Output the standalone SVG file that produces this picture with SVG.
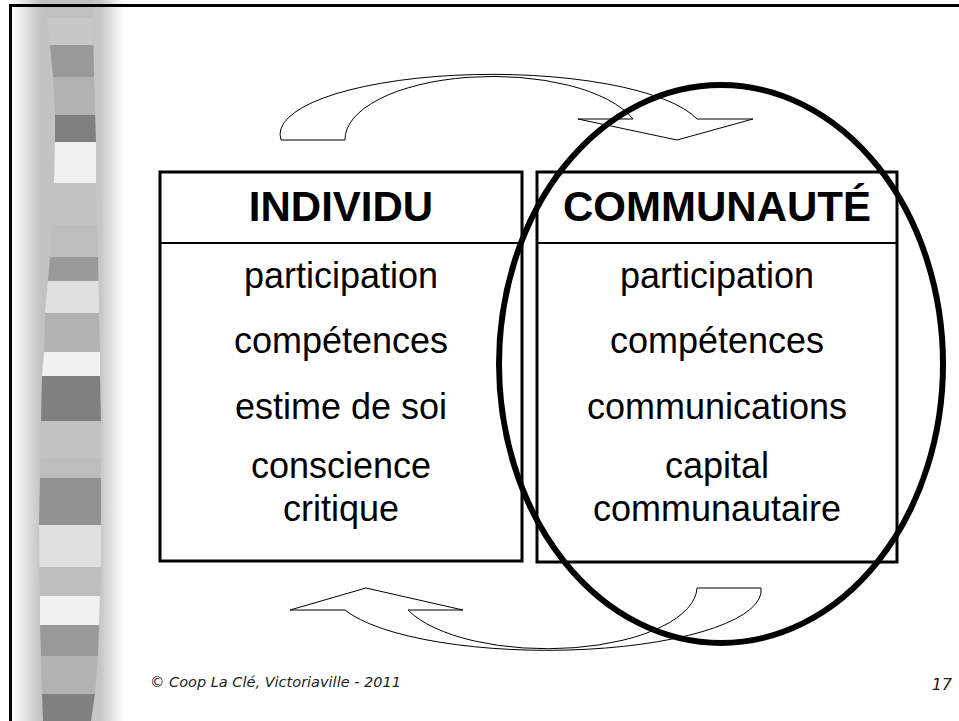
<svg xmlns="http://www.w3.org/2000/svg" width="959" height="721" viewBox="0 0 959 721">
<style>
.box{fill:#fff;stroke:#000;stroke-width:3}
.sep{stroke:#000;stroke-width:2}
.hdr{font-family:"Liberation Sans",Arial,sans-serif;font-weight:bold;font-size:42px;fill:#000;text-anchor:middle}
.txt{font-family:"Liberation Sans",Arial,sans-serif;font-size:36px;fill:#000;text-anchor:middle}
.arrow{fill:#fff;stroke:#000;stroke-width:1}
.foot{font-family:"DejaVu Sans",Verdana,sans-serif;font-style:italic;fill:#222}
</style>
<defs>
<linearGradient id="bandGrad" x1="11" y1="0" x2="124" y2="0" gradientUnits="userSpaceOnUse">
<stop offset="0" stop-color="#ffffff"/>
<stop offset="0.27" stop-color="#c2c2c2"/>
<stop offset="0.79" stop-color="#c6c6c6"/>
<stop offset="1" stop-color="#ffffff"/>
</linearGradient>
<clipPath id="barrel">
<path d="M45,0 L47,18 L50,45 L53,77 L55,115 L55,142 L54,183 L52,225 L50,257 L48,281 L45,313 L44,352 L42,376 L41,421 L40,478 L39,525 L40,596 L40,625 L41,656 L42,694 L43,721 L91,721 L95,694 L98,656 L99,625 L100,596 L101,567 L101,478 L101,421 L100,376 L100,352 L99,313 L98,257 L96,183 L96,142 L94,77 L93,0 Z"/>
</clipPath>
</defs>
<rect width="959" height="721" fill="#fff"/>
<g id="band">
<rect x="11" y="0" width="113" height="721" fill="url(#bandGrad)"/>
<g clip-path="url(#barrel)">
<rect x="30" y="0" width="80" height="18" fill="#c0c0c0"/>
<rect x="30" y="18" width="80" height="27" fill="#c7c7c7"/>
<rect x="30" y="45" width="80" height="32" fill="#999999"/>
<rect x="30" y="77" width="80" height="38" fill="#b2b2b2"/>
<rect x="30" y="115" width="80" height="27" fill="#808080"/>
<rect x="30" y="142" width="80" height="41" fill="#f0f0f0"/>
<rect x="30" y="183" width="80" height="42" fill="#c2c2c2"/>
<rect x="30" y="225" width="80" height="32" fill="#bdbdbd"/>
<rect x="30" y="257" width="80" height="24" fill="#999999"/>
<rect x="30" y="281" width="80" height="32" fill="#e0e0e0"/>
<rect x="30" y="313" width="80" height="39" fill="#b2b2b2"/>
<rect x="30" y="352" width="80" height="24" fill="#f0f0f0"/>
<rect x="30" y="376" width="80" height="45" fill="#808080"/>
<rect x="30" y="421" width="80" height="37" fill="#c2c2c2"/>
<rect x="30" y="458" width="80" height="20" fill="#bdbdbd"/>
<rect x="30" y="478" width="80" height="47" fill="#919191"/>
<rect x="30" y="525" width="80" height="42" fill="#e0e0e0"/>
<rect x="30" y="567" width="80" height="29" fill="#bdbdbd"/>
<rect x="30" y="596" width="80" height="29" fill="#f0f0f0"/>
<rect x="30" y="625" width="80" height="31" fill="#999999"/>
<rect x="30" y="656" width="80" height="38" fill="#b2b2b2"/>
<rect x="30" y="694" width="80" height="27" fill="#808080"/>
</g>
</g>
<rect x="10.5" y="5.5" width="1000" height="1000" fill="none" stroke="#000" stroke-width="3"/>
<g id="connectors">
<path id="arrow-top" class="arrow" d="M281,140 A212,60 0 0 1 697,119 L753,119 L677,140 L578,119 L633,119 A148,63 0 0 0 345,140 Z"/>
<path id="arrow-bottom" class="arrow" d="M761,588 A214,60 0 0 1 345,610 L290,610 L366,588 L463,610 L408,610 A150,62 0 0 0 697,588 Z"/>
</g>
<g id="individu">
<rect class="box" x="160" y="172" width="362" height="389"/>
<line class="sep" x1="160" y1="243" x2="522" y2="243"/>
<text class="hdr" x="341" y="221">INDIVIDU</text>
<text class="txt" x="341" y="288">participation</text>
<text class="txt" x="341" y="353">compétences</text>
<text class="txt" x="341" y="419">estime de soi</text>
<text class="txt" x="341" y="478">conscience</text>
<text class="txt" x="341" y="521">critique</text>
</g>
<g id="communaute">
<rect class="box" x="537" y="172" width="360" height="390"/>
<line class="sep" x1="537" y1="243" x2="897" y2="243"/>
<text class="hdr" x="717" y="221">COMMUNAUTÉ</text>
<text class="txt" x="717" y="288">participation</text>
<text class="txt" x="717" y="353">compétences</text>
<text class="txt" x="717" y="419">communications</text>
<text class="txt" x="717" y="478">capital</text>
<text class="txt" x="717" y="521">communautaire</text>
</g>
<g id="highlight">
<ellipse cx="721" cy="364" rx="222" ry="279" fill="none" stroke="#000" stroke-width="6"/>
</g>
<g id="footer">
<text class="foot" x="150" y="687" font-size="14.5">© Coop La Clé, Victoriaville - 2011</text>
<text class="foot" x="952" y="690" font-size="16" text-anchor="end">17</text>
</g>
</svg>
